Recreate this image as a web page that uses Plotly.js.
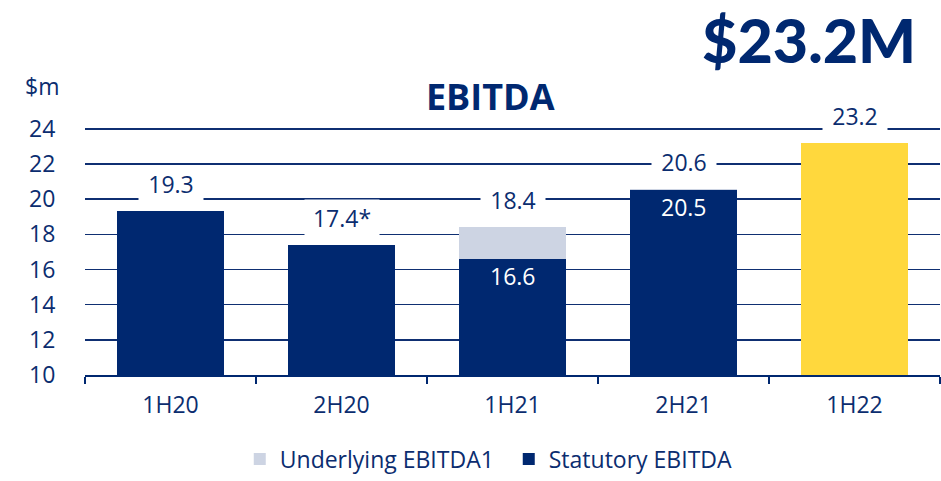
<!DOCTYPE html>
<html>
<head>
<meta charset="utf-8">
<script src="https://cdn.plot.ly/plotly-3.0.1.min.js"></script>
<style>html,body{margin:0;padding:0;background:#fff;}#chart{width:941px;height:481px;}</style>
</head>
<body>
<div id="chart"></div>
<script>
const categories = ['1H20', '2H20', '1H21', '2H21', '1H22'];
const statutory = [19.3, 17.4, 16.6, 20.5, 23.2];
const underlying = [19.3, 17.4, 18.4, 20.6, 23.2];
const topLabels = ['19.3', '17.4*', '18.4', '20.6', '23.2'];
const insideLabels = ['', '', '16.6', '20.5', ''];
const yTicks = [10, 12, 14, 16, 18, 20, 22, 24];

const NAVY = '#002870';
const TEXT = '#0B2D6F';
const LIGHT = '#CDD4E3';
const YELLOW = '#FFD83D';
const FONT = '"Open Sans", Lato, sans-serif';
const BIG = 'Lato, "Open Sans", sans-serif';

const statColors = categories.map((c, i) => i === categories.length - 1 ? YELLOW : NAVY);
const diff = underlying.map((u, i) => +(u - statutory[i]).toFixed(2));

const traces = [
  {type: 'bar', name: 'Statutory EBITDA', x: categories, y: statutory,
   marker: {color: statColors, line: {width: 0}}, hoverinfo: 'skip'},
  {type: 'bar', name: 'Underlying EBITDA1', x: categories, y: diff,
   marker: {color: LIGHT, line: {width: 0}}, hoverinfo: 'skip'}
];

const annotations = [];
categories.forEach((c, i) => {
  annotations.push({x: c, y: underlying[i], xref: 'x', yref: 'y', yshift: 27,
    text: topLabels[i], showarrow: false, bgcolor: '#ffffff', borderpad: 3,
    width: topLabels[i].length > 4 ? 68 : 58, height: 30, valign: 'middle',
    font: {family: FONT, size: 23, color: TEXT}, yanchor: 'middle'});
  if (insideLabels[i]) {
    annotations.push({x: c, y: statutory[i], xref: 'x', yref: 'y', yshift: -17,
      text: insideLabels[i], showarrow: false,
      font: {family: FONT, size: 23, color: '#ffffff'}, yanchor: 'middle'});
  }
});
annotations.push({x: -0.0503, y: 1.135, xref: 'paper', yref: 'paper', text: '$m',
  showarrow: false, xanchor: 'center', yanchor: 'middle',
  font: {family: FONT, size: 23, color: TEXT}});
annotations.push({x: 0.974, y: 1.317, xref: 'paper', yref: 'paper', text: '$23.2M',
  showarrow: false, xanchor: 'right', yanchor: 'middle',
  font: {family: BIG, size: 61, color: NAVY, weight: 900}});

const layout = {
  width: 941, height: 481,
  margin: {l: 85, r: 1, t: 120, b: 102},
  paper_bgcolor: '#ffffff', plot_bgcolor: '#ffffff',
  barmode: 'stack', bargap: 0.375,
  showlegend: true,
  title: {text: '<b>EBITDA</b>', x: 0.521, xref: 'container', y: 0.798, yref: 'container',
    xanchor: 'center', yanchor: 'middle', font: {family: FONT, size: 36, color: NAVY}},
  xaxis: {type: 'category', showgrid: false, showline: true, linecolor: NAVY, linewidth: 1.5,
    ticks: 'outside', tickson: 'boundaries', ticklen: 7, tickcolor: NAVY, tickwidth: 1.5,
    ticklabelstandoff: 9, tickfont: {family: FONT, size: 23, color: TEXT}, fixedrange: true},
  yaxis: {range: [10, 24.5], tickvals: yTicks, showgrid: true, gridcolor: '#0F2F72', gridwidth: 1.6,
    zeroline: false, showline: false, ticks: 'outside', ticklen: 24, tickcolor: 'rgba(0,0,0,0)',
    tickfont: {family: FONT, size: 23, color: TEXT}, fixedrange: true},
  legend: {orientation: 'h', x: 0.181, xanchor: 'left', y: -0.33, yanchor: 'middle',
    traceorder: 'reversed', font: {family: FONT, size: 23, color: TEXT}, itemwidth: 30,
    entrywidth: 224, entrywidthmode: 'pixels', tracegroupgap: 0},
  annotations: annotations
};

Plotly.newPlot('chart', traces, layout, {displayModeBar: false, staticPlot: true});
</script>
</body>
</html>
